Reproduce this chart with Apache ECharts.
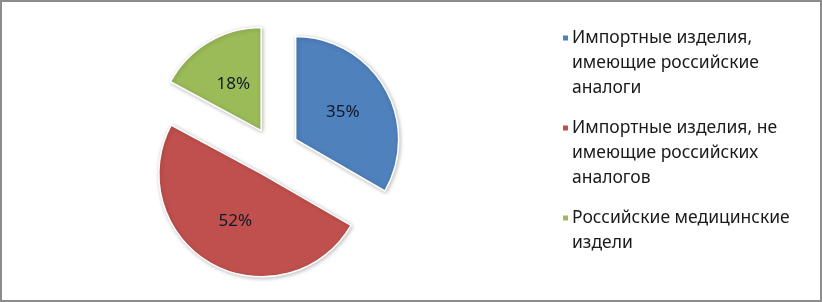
<!DOCTYPE html>
<html>
<head>
<meta charset="utf-8">
<script src="https://cdn.jsdelivr.net/npm/echarts@6/dist/echarts.min.js"></script>
<style>
html,body{margin:0;padding:0;background:#fff;}
#c{width:822px;height:302px;box-sizing:border-box;border:2px solid #8c8c8c;}
</style>
</head>
<body>
<div id="c"></div>
<script>
const categories = [
  'Импортные изделия,\nимеющие российские\nаналоги',
  'Импортные изделия, не\nимеющие российских\nаналогов',
  'Российские медицинские\nиздели'
];
const values = [35, 52, 18];
const colors = ['#4F81BD', '#C0504D', '#9BBB59'];

// pad legend names so the icon sits on the first line
function padName(n) {
  const lines = n.split('\n');
  const total = 5;
  const before = 2;
  const after = total - before - lines.length;
  return '\n'.repeat(before) + n + '\n'.repeat(Math.max(after, 0));
}

const chart = echarts.init(document.getElementById('c'));
chart.setOption({
  animation: false,
  color: colors,
  legend: {
    orient: 'vertical',
    left: 559,
    top: -26.5,
    padding: 0,
    itemWidth: 7,
    itemHeight: 7,
    itemGap: -35,
    icon: 'rect',
    selectedMode: false,
    formatter: function (name) { return padName(name); },
    textStyle: {
      fontFamily: 'Noto Sans',
      fontSize: 17.5,
      lineHeight: 25,
      color: '#1a1a1a',
      padding: [0, 0, 0, -2]
    },
    data: categories
  },
  series: [{
    type: 'pie',
    center: [272, 150],
    radius: 103,
    startAngle: 90,
    clockwise: true,
    selectedMode: 'multiple',
    selectedOffset: 25,
    label: {
      position: 'inside',
      formatter: '{c}%',
      fontFamily: 'Noto Sans',
      fontSize: 17,
      color: '#111827'
    },
    labelLine: { show: false },
    itemStyle: {
      borderColor: '#ffffff',
      borderWidth: 1.5,
      shadowBlur: 4,
      shadowColor: 'rgba(0,0,0,0.25)',
      shadowOffsetX: 1,
      shadowOffsetY: 1
    },
    emphasis: { disabled: true },
    data: categories.map((n, i) => ({ name: n, value: values[i], selected: true }))
  }]
});
</script>
</body>
</html>
